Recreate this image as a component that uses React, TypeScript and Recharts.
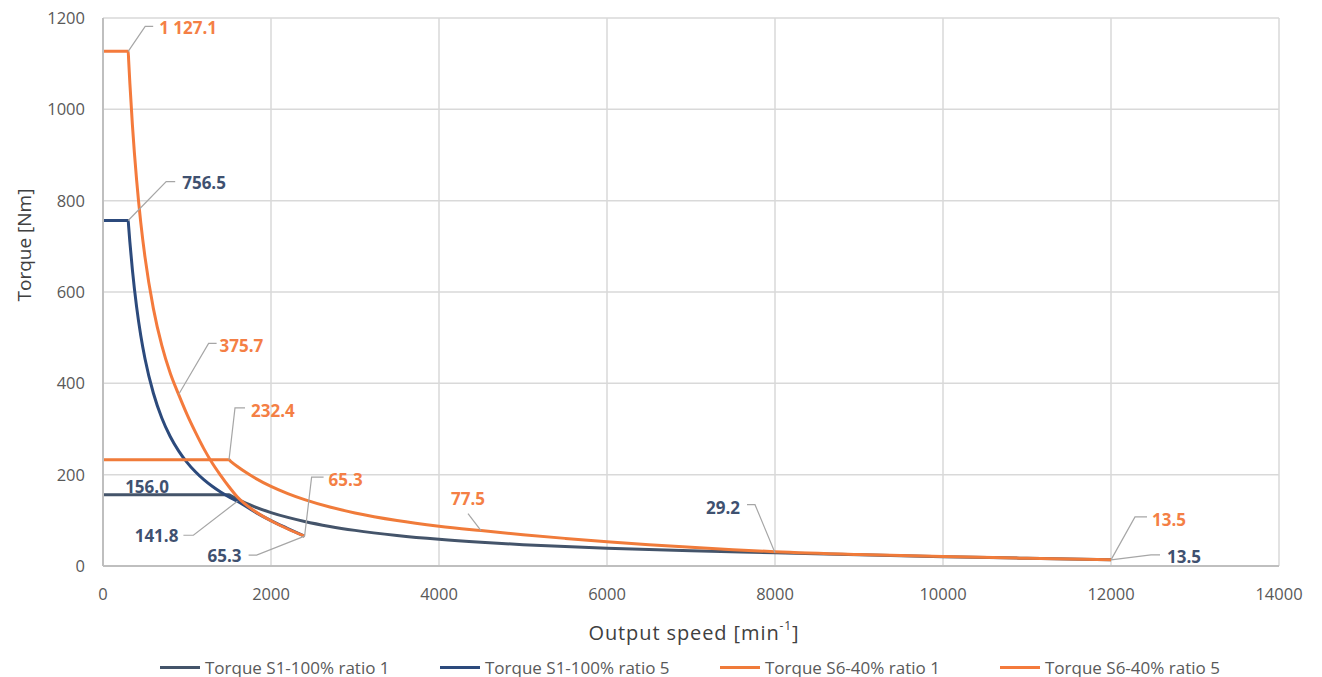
import { LineChart, Line, XAxis, YAxis, CartesianGrid, LabelList, Label } from "recharts";

// speeds [min-1] and torques [Nm]
const speedS1r1 = [0, 1500, 1520, 1600, 1700, 1800, 2000, 2200, 2400, 2700, 3000, 3500, 4000, 4500, 5000, 6000, 7000, 8000, 9000, 10000, 11000, 12000];
const torqueS1r1 = [156.0, 156.0, 154.0, 146.3, 137.6, 130.0, 117.0, 106.4, 97.5, 86.7, 78.0, 66.9, 58.5, 52.0, 46.8, 39.0, 33.4, 29.2, 24.6, 20.5, 16.9, 13.5];

const speedS1r5 = [0, 300, 305, 320, 350, 400, 450, 500, 600, 700, 800, 900, 1000, 1100, 1200, 1300, 1400, 1500, 1600, 1800, 2000, 2200, 2400];
const torqueS1r5 = [756.5, 756.5, 744.1, 709.2, 648.4, 567.4, 504.3, 453.9, 378.3, 324.2, 283.7, 252.2, 227.0, 206.3, 189.1, 174.6, 162.1, 151.3, 141.8, 119.3, 99.4, 82.0, 65.3];

const speedS6r1 = [0, 1500, 1520, 1600, 1700, 1800, 2000, 2200, 2400, 2700, 3000, 3500, 4000, 4500, 5000, 5500, 6000, 6500, 7000, 7500, 8000, 9000, 10000, 11000, 12000];
const torqueS6r1 = [232.4, 232.4, 229.3, 217.9, 205.1, 193.7, 174.3, 158.5, 145.3, 129.1, 116.2, 99.6, 87.2, 77.5, 68.5, 60.5, 53.0, 46.5, 41.0, 35.8, 31.2, 25.0, 20.6, 16.9, 13.5];

const speedS6r5 = [0, 300, 305, 320, 350, 400, 450, 500, 600, 700, 800, 900, 1000, 1100, 1200, 1300, 1400, 1500, 1600, 1800, 2000, 2200, 2400];
const torqueS6r5 = [1127.1, 1127.1, 1108.6, 1056.7, 966.1, 845.3, 751.4, 676.3, 563.6, 483.0, 422.7, 375.7, 332.0, 293.0, 257.0, 225.5, 198.5, 173.5, 151.0, 121.0, 99.0, 81.0, 65.3];

const xTicks = [0, 2000, 4000, 6000, 8000, 10000, 12000, 14000];
const yTicks = [0, 200, 400, 600, 800, 1000, 1200];

const FONT = "'Open Sans', sans-serif";
const DARK_TXT = "#3f5170";
const ORANGE_TXT = "#f47f45";

type Callout = {
  at: number;
  elbow?: [number, number];
  end?: [number, number];
  text: [number, number];
  anchor: "start" | "middle" | "end";
};

const series = [
  {
    name: "Torque S1-100% ratio 1",
    speeds: speedS1r1,
    torques: torqueS1r1,
    color: "#44546a",
    textColor: DARK_TXT,
    callouts: [
      { at: 0, text: [44, -8], anchor: "middle" },
      { at: 8000, elbow: [-20, -48], end: [-28, -48], text: [-35, -45], anchor: "end" },
      { at: 12000, elbow: [40, -5], end: [49, -5], text: [56, -3], anchor: "start" },
    ] as Callout[],
  },
  {
    name: "Torque S1-100% ratio 5",
    speeds: speedS1r5,
    torques: torqueS1r5,
    color: "#2c4a7c",
    textColor: DARK_TXT,
    callouts: [
      { at: 300, elbow: [38, -39], end: [47, -39], text: [54, -38], anchor: "start" },
      { at: 1600, elbow: [-44, 34], end: [-54, 34], text: [-59, 34], anchor: "end" },
      { at: 2400, elbow: [-48, 19], end: [-56, 19], text: [-63, 19], anchor: "end" },
    ] as Callout[],
  },
  {
    name: "Torque S6-40% ratio 1",
    speeds: speedS6r1,
    torques: torqueS6r1,
    color: "#f07b3a",
    textColor: ORANGE_TXT,
    callouts: [
      { at: 1500, elbow: [6, -52], end: [16, -52], text: [22, -49], anchor: "start" },
      { at: 4500, elbow: [-13, -17], text: [-13, -32], anchor: "middle" },
      { at: 12000, elbow: [24, -43], end: [36, -43], text: [41, -40], anchor: "start" },
    ] as Callout[],
  },
  {
    name: "Torque S6-40% ratio 5",
    speeds: speedS6r5,
    torques: torqueS6r5,
    color: "#f47a3c",
    textColor: ORANGE_TXT,
    callouts: [
      { at: 300, elbow: [17, -25], end: [25, -25], text: [31, -24], anchor: "start" },
      { at: 900, elbow: [30, -51], end: [38, -51], text: [41, -49], anchor: "start" },
      { at: 2400, elbow: [7, -59], end: [19, -59], text: [24, -57], anchor: "start" },
    ] as Callout[],
  },
];

const fmt = (v: number) => {
  const [i, d] = v.toFixed(1).split(".");
  return i.replace(/\B(?=(\d{3})+(?!\d))/g, " ") + "." + d;
};

const calloutRenderer = (s: (typeof series)[number]) => (props: any) => {
  const { x, y, index, value } = props;
  const c = s.callouts.find((k) => s.speeds.indexOf(k.at) === index);
  if (!c || x == null || y == null) return null;
  const pts: string[] = [];
  if (c.elbow) {
    pts.push(`${x},${y}`, `${x + c.elbow[0]},${y + c.elbow[1]}`);
    if (c.end) pts.push(`${x + c.end[0]},${y + c.end[1]}`);
  }
  return (
    <g key={`co-${s.name}-${index}`}>
      {pts.length > 0 && <polyline points={pts.join(" ")} fill="none" stroke="#a6a6a6" strokeWidth={1.2} />}
      <text
        x={x + c.text[0]}
        y={y + c.text[1]}
        textAnchor={c.anchor}
        dominantBaseline="central"
        fill={s.textColor}
        fontFamily={FONT}
        fontWeight={700}
        fontSize={17}
      >
        {fmt(Number(value))}
      </text>
    </g>
  );
};

export default function App() {
  return (
    <div style={{ position: "absolute", left: 0, top: 0, width: 1322, height: 677, background: "#fff" }}>
      <LineChart width={1322} height={677} margin={{ top: 18, right: 43, left: 0, bottom: 0 }}>
        <CartesianGrid stroke="#d9d9d9" strokeWidth={1.5} />
        <XAxis
          type="number"
          dataKey="speed"
          domain={[0, 14000]}
          ticks={xTicks}
          height={111}
          tickLine={false}
          tickSize={0}
          tickMargin={22}
          axisLine={{ stroke: "#bfbfbf", strokeWidth: 2 }}
          tick={{ fill: "#595959", fontSize: 16.5, fontFamily: FONT }}
        >
          <Label
            content={() => (
              <text x={694} y={632} textAnchor="middle" dominantBaseline="central" fill="#404040" fontFamily={FONT} fontSize={20} letterSpacing={0.9}>
                Output speed [min
                <tspan fontSize={12} dy={-7}>-1</tspan>
                <tspan dy={7}>]</tspan>
              </text>
            )}
          />
        </XAxis>
        <YAxis
          type="number"
          domain={[0, 1200]}
          ticks={yTicks}
          width={103}
          tickLine={false}
          tickSize={0}
          tickMargin={18}
          axisLine={{ stroke: "#bfbfbf", strokeWidth: 2 }}
          tick={{ fill: "#595959", fontSize: 16.5, fontFamily: FONT }}
        >
          <Label
            content={() => (
              <text
                x={24}
                y={245}
                transform="rotate(-90 24 245)"
                textAnchor="middle"
                dominantBaseline="central"
                fill="#404040"
                fontFamily={FONT}
                fontSize={19}
              >
                Torque [Nm]
              </text>
            )}
          />
        </YAxis>
        {series.map((s) => (
          <Line
            key={s.name}
            data={s.speeds.map((sp, i) => ({ speed: sp, torque: s.torques[i] }))}
            dataKey="torque"
            name={s.name}
            type="monotone"
            stroke={s.color}
            strokeWidth={3}
            dot={false}
            activeDot={false}
            isAnimationActive={false}
          >
            <LabelList dataKey="torque" content={calloutRenderer(s)} />
          </Line>
        ))}
      </LineChart>
      <div style={{ position: "absolute", left: 160, top: 655, display: "flex", fontFamily: FONT, fontSize: 17, color: "#595959" }}>
        {series.map((s) => (
          <div key={s.name} style={{ width: 280, display: "flex", alignItems: "center", height: 24 }}>
            <span style={{ display: "inline-block", width: 40, height: 3, background: s.color, marginRight: 5 }} />
            <span>{s.name}</span>
          </div>
        ))}
      </div>
    </div>
  );
}
